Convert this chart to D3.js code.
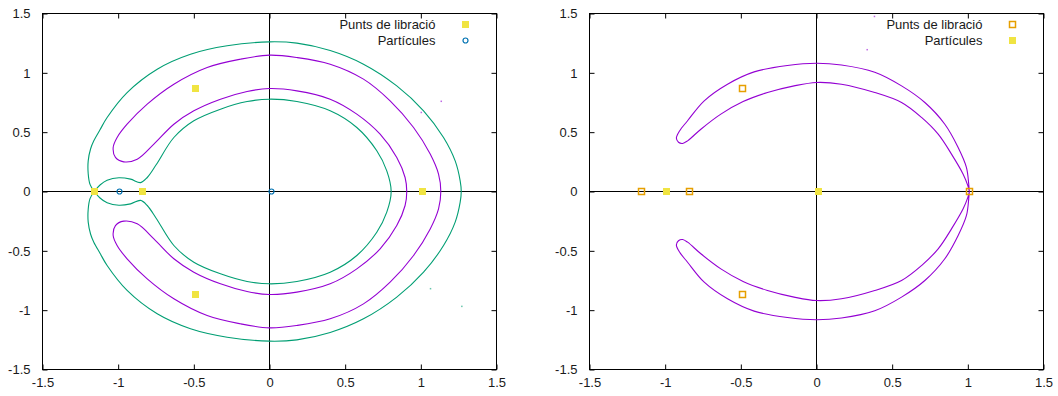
<!DOCTYPE html>
<html>
<head>
<meta charset="utf-8">
<script src="https://cdn.jsdelivr.net/npm/d3@7"></script>
<style>
  body { margin: 0; background: #fff; }
  svg text { font-family: "Liberation Sans", Arial, sans-serif; font-size: 13px; fill: #1a1a1a; }
</style>
</head>
<body>
<svg id="chart" width="1058" height="396"></svg>
<script>
// ---- data ----
var ticks = [-1.5, -1, -0.5, 0, 0.5, 1, 1.5];
var legendLabels = ["Punts de libració", "Partícules"];

// libration points L2, L1, L3, L4, L5 and the two bodies
var libration = [[-1.156, 0], [-0.837, 0], [1.01, 0], [-0.488, 0.866], [-0.488, -0.866]];
var particles = [[-0.988, 0], [0.012, 0]];

// left panel, upper halves (y >= 0); mirrored below the axis when drawn
var leftGreenOuter = [[-1.158, 0], [-1.186, 0.06], [-1.198, 0.15], [-1.198, 0.258], [-1.182, 0.36],
  [-1.161, 0.427], [-1.12, 0.52], [-1.073, 0.624], [-0.941, 0.834], [-0.742, 1.031], [-0.522, 1.157],
  [-0.28, 1.228], [0, 1.261], [0.181, 1.25], [0.401, 1.188], [0.621, 1.073], [0.841, 0.89],
  [1.018, 0.68], [1.15, 0.455], [1.227, 0.258], [1.26, 0.09], [1.267, 0]];
var leftGreenInner = [[-1.158, 0], [-1.12, 0.055], [-1.073, 0.095], [-0.995, 0.116], [-0.918, 0.104],
  [-0.852, 0.075], [-0.808, 0.118], [-0.749, 0.225], [-0.632, 0.455], [-0.5, 0.596], [-0.324, 0.694],
  [-0.148, 0.758], [0, 0.778], [0.181, 0.758], [0.401, 0.68], [0.577, 0.539], [0.709, 0.343],
  [0.775, 0.174], [0.804, 0]];
var leftPurple = [[0.907, 0], [0.896, 0.118], [0.841, 0.287], [0.731, 0.483], [0.577, 0.652],
  [0.401, 0.778], [0.181, 0.848], [0, 0.868], [-0.148, 0.843], [-0.324, 0.778], [-0.5, 0.68],
  [-0.632, 0.567], [-0.764, 0.399], [-0.874, 0.272], [-0.963, 0.25], [-1.018, 0.287],
  [-1.033, 0.371], [-1.007, 0.455], [-0.941, 0.567], [-0.808, 0.736], [-0.632, 0.904],
  [-0.412, 1.045], [-0.192, 1.115], [0, 1.149], [0.181, 1.129], [0.401, 1.073], [0.621, 0.947],
  [0.797, 0.764], [0.952, 0.539], [1.062, 0.315], [1.117, 0.146], [1.132, 0]];
var leftStrayPurple = [[1.135, 0.76], [1.003, 0.666]];
var leftStrayGreen = [[1.064, -0.819], [1.271, -0.968]];

// right panel, upper loop (starts and ends on L3)
var rightPurple = [[1.01, 0], [1.006, 0.06], [0.991, 0.202], [0.936, 0.371], [0.848, 0.567],
  [0.716, 0.75], [0.562, 0.89], [0.385, 1.005], [0.165, 1.066], [0, 1.081], [-0.192, 1.062],
  [-0.412, 1.008], [-0.588, 0.904], [-0.742, 0.764], [-0.852, 0.596], [-0.905, 0.51],
  [-0.926, 0.45], [-0.912, 0.415], [-0.885, 0.405], [-0.852, 0.427], [-0.764, 0.525],
  [-0.632, 0.652], [-0.485, 0.758], [-0.324, 0.834], [-0.148, 0.89], [0, 0.919], [0.165, 0.904],
  [0.385, 0.834], [0.562, 0.75], [0.694, 0.624], [0.804, 0.483], [0.892, 0.315], [0.969, 0.146],
  [1.0, 0.05], [1.01, 0]];
var rightStrayPurple = [[0.383, 1.475], [0.335, 1.195]];

var purple = "#9400d3", green = "#009e73", blue = "#0072b2", orange = "#e69f00", yellow = "#f0e442";

// ---- helpers ----
var svg = d3.select("#chart");

// upper half -> whole curve, walking back below the axis
function mirrorHalf(upper) {
  return upper.concat(upper.slice(0, -1).reverse().map(p => [p[0], -p[1]]));
}
function flip(pts) { return pts.map(p => [p[0], -p[1]]); }

// snap marker centres to pixel centres so outlines stay crisp
function px(v) { return Math.floor(v) + 0.5; }

function drawMarks(g, x, y, pts, kind) {
  var sel = g.append("g").selectAll("g").data(pts).enter().append("g")
    .attr("transform", d => "translate(" + px(x(d[0])) + "," + px(y(d[1])) + ")");
  addMark(sel, kind);
}

function addMark(sel, kind) {
  if (kind === "fsquare") {
    sel.append("rect").attr("x", -3.5).attr("y", -3.5).attr("width", 7).attr("height", 7)
      .attr("fill", yellow);
  } else if (kind === "osquare") {
    sel.append("rect").attr("x", -3).attr("y", -3).attr("width", 6).attr("height", 6)
      .attr("fill", "none").attr("stroke", orange).attr("stroke-width", 1.5);
  } else {
    sel.append("circle").attr("r", 2.5).attr("fill", "none")
      .attr("stroke", blue).attr("stroke-width", 1.2);
  }
}

function panel(opts) {
  var x = d3.scaleLinear().domain([-1.5, 1.5]).range(opts.xRange),
      y = d3.scaleLinear().domain([-1.5, 1.5]).range([369.5, 13.5]),
      fmt = d => String(d),
      g = svg.append("g").style("color", "#000");

  g.append("g").attr("transform", "translate(0," + y(-1.5) + ")")
    .call(d3.axisBottom(x).tickValues(ticks).tickSize(-5).tickPadding(8).tickFormat(fmt));
  g.append("g").attr("transform", "translate(0," + y(1.5) + ")")
    .call(d3.axisTop(x).tickValues(ticks).tickSize(-5).tickFormat(""));
  g.append("g").attr("transform", "translate(" + x(-1.5) + ",0)")
    .call(d3.axisLeft(y).tickValues(ticks).tickSize(-5).tickPadding(12).tickFormat(fmt));
  g.append("g").attr("transform", "translate(" + x(1.5) + ",0)")
    .call(d3.axisRight(y).tickValues(ticks).tickSize(-5).tickFormat(""));
  g.selectAll(".domain").remove();

  // border
  g.append("rect").attr("x", x(-1.5)).attr("y", y(1.5))
    .attr("width", x(1.5) - x(-1.5)).attr("height", y(-1.5) - y(1.5))
    .attr("fill", "none").attr("stroke", "#000");

  // zero axes
  g.append("line").attr("x1", x(-1.5)).attr("x2", x(1.5)).attr("y1", y(0)).attr("y2", y(0))
    .attr("stroke", "#000");
  g.append("line").attr("x1", x(0)).attr("x2", x(0)).attr("y1", y(1.5)).attr("y2", y(-1.5))
    .attr("stroke", "#000");

  var line = d3.line().x(d => x(d[0])).y(d => y(d[1]));
  opts.curves.forEach(c => {
    g.append("path")
      .attr("d", line.curve(c.closed ? d3.curveCatmullRomClosed : d3.curveCatmullRom)(c.points))
      .attr("fill", "none").attr("stroke", c.color).attr("stroke-width", 1.1);
  });

  opts.stray.forEach(s => {
    g.append("g").selectAll("rect").data(s.points).enter().append("rect")
      .attr("x", d => x(d[0]) - 0.75).attr("y", d => y(d[1]) - 0.75)
      .attr("width", 1.5).attr("height", 1.5).attr("fill", s.color).attr("opacity", 0.6);
  });

  drawMarks(g, x, y, libration, opts.libKind);
  drawMarks(g, x, y, particles, opts.partKind);

  // legend, top right
  var lx = x(1.5) - 31;
  [opts.libKind, opts.partKind].forEach((kind, i) => {
    var ly = 24.5 + i * 16;
    g.append("text").attr("x", lx - 30).attr("y", ly).attr("dy", "0.35em")
      .attr("text-anchor", "end").text(legendLabels[i]);
    addMark(g.append("g").attr("transform", "translate(" + px(lx) + "," + px(ly) + ")"), kind);
  });
}

panel({
  xRange: [42.5, 496.5],
  curves: [
    { points: mirrorHalf(leftGreenOuter), color: green },
    { points: mirrorHalf(leftGreenInner), color: green },
    { points: mirrorHalf(leftPurple).slice(0, -1), color: purple, closed: true }
  ],
  stray: [{ points: leftStrayPurple, color: purple }, { points: leftStrayGreen, color: green }],
  libKind: "fsquare",
  partKind: "ocircle"
});

panel({
  xRange: [589.5, 1043.5],
  curves: [
    { points: rightPurple, color: purple },
    { points: flip(rightPurple), color: purple }
  ],
  stray: [{ points: rightStrayPurple, color: purple }],
  libKind: "osquare",
  partKind: "fsquare"
});
</script>
</body>
</html>
